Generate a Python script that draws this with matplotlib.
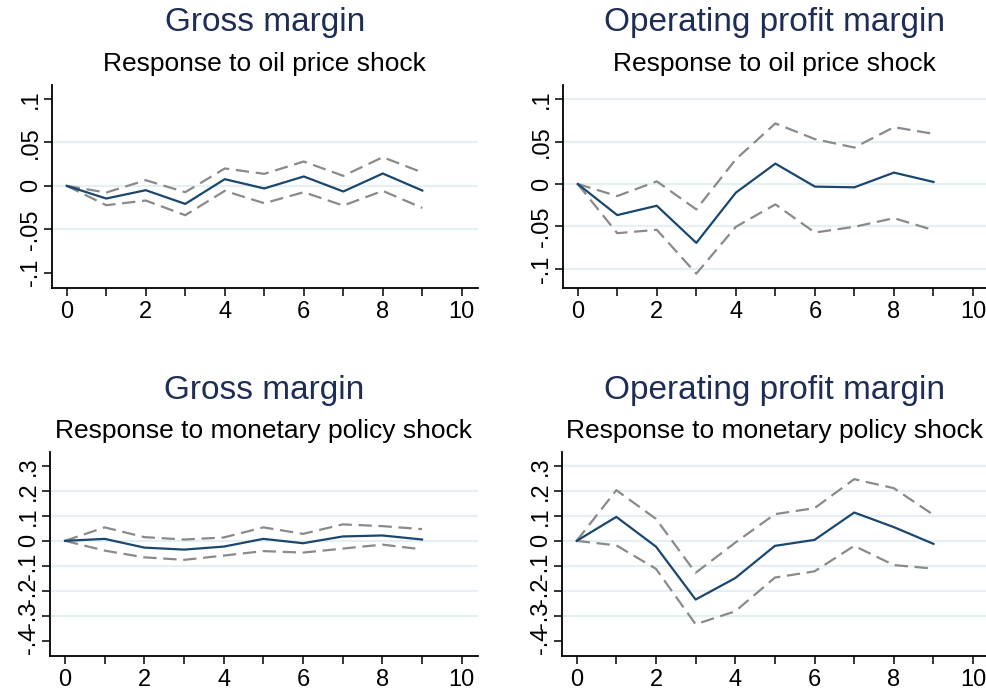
import numpy as np
import matplotlib
matplotlib.use("Agg")
import matplotlib.pyplot as plt

plt.rcParams['font.family'] = ['Liberation Sans', 'DejaVu Sans']

# horizon (periods after shock)
steps = [0, 1, 2, 3, 4, 5, 6, 7, 8, 9]

# Gross margin, oil price shock
gm_oil = [0, -0.0146, -0.005, -0.0208, 0.0077, -0.003, 0.0108, -0.0065, 0.0142, -0.0054]
gm_oil_hi = [0, -0.0077, 0.0065, -0.0073, 0.020, 0.0138, 0.028, 0.0115, 0.033, 0.0154]
gm_oil_lo = [0, -0.0223, -0.0169, -0.0338, -0.0058, -0.020, -0.0073, -0.0227, -0.0058, -0.0254]

# Operating profit margin, oil price shock
opm_oil = [0, -0.0366, -0.0256, -0.0693, -0.0102, 0.024, -0.0031, -0.0039, 0.0134, 0.0024]
opm_oil_hi = [0, -0.0142, 0.0031, -0.0299, 0.0291, 0.0713, 0.0528, 0.0429, 0.0669, 0.059]
opm_oil_lo = [0, -0.0579, -0.0539, -0.1055, -0.0504, -0.024, -0.0571, -0.0504, -0.0402, -0.0543]

# Gross margin, monetary policy shock
gm_mp = [0, 0.008, -0.027, -0.035, -0.023, 0.008, -0.0095, 0.0176, 0.0216, 0.0054]
gm_mp_hi = [0, 0.054, 0.0149, 0.0054, 0.0135, 0.054, 0.028, 0.066, 0.059, 0.047]
gm_mp_lo = [0, -0.039, -0.066, -0.076, -0.059, -0.041, -0.047, -0.031, -0.015, -0.034]

# Operating profit margin, monetary policy shock
opm_mp = [0, 0.096, -0.023, -0.235, -0.149, -0.020, 0.004, 0.1135, 0.055, -0.012]
opm_mp_hi = [0, 0.203, 0.088, -0.128, -0.007, 0.107, 0.131, 0.247, 0.211, 0.104]
opm_mp_lo = [0, -0.018, -0.112, -0.334, -0.282, -0.147, -0.122, -0.020, -0.097, -0.111]

oil_ticks = [-0.1, -0.05, 0, 0.05, 0.1]
oil_labels = ['-.1', '-.05', '0', '.05', '.1']
mp_ticks = [-0.4, -0.3, -0.2, -0.1, 0, 0.1, 0.2, 0.3]
mp_labels = ['-.4', '-.3', '-.2', '-.1', '0', '.1', '.2', '.3']

W, H = 987, 692
NAVY = '#1a476f'
TITLE = '#1e2d55'
GRAY = '#8a8a8a'
GRID = '#e6eff1'

fig = plt.figure(figsize=(W / 100, H / 100), dpi=100)


def panel(box, xlim, ylim, mid, hi, lo, yticks, ylabels, grid, title, sub, title_y, sub_y):
    x0, x1, y0, y1 = box
    ax = fig.add_axes([x0 / W, 1 - y1 / H, (x1 - x0) / W, (y1 - y0) / H])
    for g in grid:
        ax.axhline(g, color=GRID, lw=1.6, zorder=0)
    ax.plot(steps, hi, color=GRAY, lw=1.6, dashes=(6, 3))
    ax.plot(steps, lo, color=GRAY, lw=1.6, dashes=(6, 3))
    ax.plot(steps, mid, color=NAVY, lw=1.6)
    ax.set_xlim(*xlim)
    ax.set_ylim(*ylim)
    ax.set_xticks(range(0, 11))
    ax.set_xticklabels([str(i) if i % 2 == 0 else '' for i in range(0, 11)])
    ax.set_yticks(yticks)
    ax.set_yticklabels(ylabels)
    for s in ['top', 'right']:
        ax.spines[s].set_visible(False)
    for s in ['left', 'bottom']:
        ax.spines[s].set_linewidth(1.3)
    ax.tick_params(axis='both', length=6, width=1.1, labelsize=17)
    ax.tick_params(axis='x', pad=3)
    ax.tick_params(axis='y', pad=1, labelrotation=90)
    for lab in ax.get_yticklabels():
        lab.set_va('center')
    cx = (x0 + x1) / 2 / W
    fig.text(cx, 1 - title_y / H, title, ha='center', va='center', fontsize=24, color=TITLE)
    fig.text(cx, 1 - sub_y / H, sub, ha='center', va='center', fontsize=19, color='black')
    return ax


panel((51.7, 478, 85, 288), (-0.38, 10.41), (-0.1176, 0.1161),
      gm_oil, gm_oil_hi, gm_oil_lo, oil_ticks, oil_labels, [-0.05, 0, 0.05],
      'Gross margin', 'Response to oil price shock', 23, 64)
panel((562.7, 987, 85, 288), (-0.38, 10.354), (-0.1224, 0.1165),
      opm_oil, opm_oil_hi, opm_oil_lo, oil_ticks, oil_labels, [-0.1, -0.05, 0, 0.05, 0.1],
      'Operating profit margin', 'Response to oil price shock', 23, 64)
panel((50, 478, 451.7, 656), (-0.378, 10.41), (-0.461, 0.357),
      gm_mp, gm_mp_hi, gm_mp_lo, mp_ticks, mp_labels, [-0.3, -0.2, -0.1, 0, 0.1, 0.2],
      'Gross margin', 'Response to monetary policy shock', 390, 431)
panel((561.7, 987, 451.7, 656), (-0.378, 10.35), (-0.461, 0.357),
      opm_mp, opm_mp_hi, opm_mp_lo, mp_ticks, mp_labels, [-0.3, -0.2, -0.1, 0, 0.1, 0.2, 0.3],
      'Operating profit margin', 'Response to monetary policy shock', 390, 431)

fig.savefig('out.png', dpi=100)
